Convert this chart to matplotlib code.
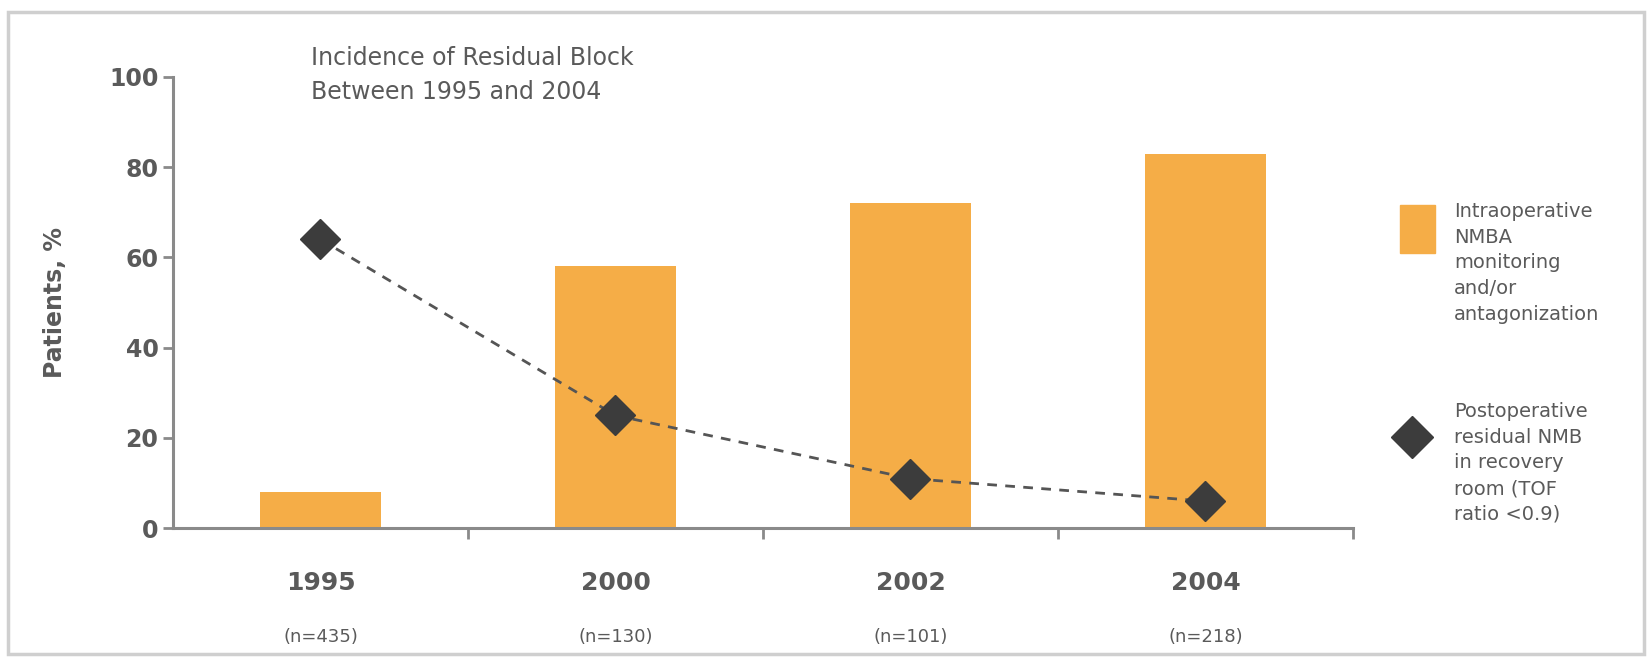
import matplotlib
matplotlib.use("Agg")
import matplotlib.pyplot as plt
from matplotlib.patches import Rectangle
from matplotlib.lines import Line2D
from matplotlib.transforms import blended_transform_factory

years = ["1995", "2000", "2002", "2004"]
n_labels = ["(n=435)", "(n=130)", "(n=101)", "(n=218)"]
monitoring = [8, 58, 72, 83]
residual = [64, 25, 11, 6]
yticks = [0, 20, 40, 60, 80, 100]

orange = "#F5AD47"
dark = "#3C3C3C"
gray = "#5A5A5A"
axcol = "#8A8A8A"

fig = plt.figure(figsize=(16.52, 6.57), dpi=100)
ax = fig.add_axes([0.1047, 0.196, 0.7143, 0.687])

x = list(range(len(years)))
ax.bar(x, monitoring, width=0.41, color=orange, zorder=2)
ax.plot(x, residual, linestyle=(0, (3.5, 3)), color="#555555", lw=2,
        marker="D", markersize=20, markerfacecolor=dark, markeredgecolor=dark, zorder=3)

ax.set_xlim(-0.5, 3.5)
ax.set_ylim(0, 100)
ax.set_yticks(yticks)
ax.set_yticklabels([str(v) for v in yticks], fontsize=17, fontweight="bold", color=gray)
ax.set_xticks([0.5, 1.5, 2.5, 3.5])
ax.set_xticklabels([])
ax.tick_params(axis="both", color=axcol, width=2, length=7, direction="out")
ax.tick_params(axis="x", length=8)
for s in ["top", "right"]:
    ax.spines[s].set_visible(False)
for s in ["left", "bottom"]:
    ax.spines[s].set_color(axcol)
    ax.spines[s].set_linewidth(2.2)

ax.set_ylabel("Patients, %", fontsize=17, fontweight="bold", color=gray, labelpad=30)

trans = blended_transform_factory(ax.transData, fig.transFigure)
for xi, yr, nl in zip(x, years, n_labels):
    ax.text(xi, 1 - 583 / 657, yr, transform=trans, ha="center", va="center",
            fontsize=18, fontweight="bold", color=gray)
    ax.text(xi, 1 - 637 / 657, nl, transform=trans, ha="center", va="center",
            fontsize=13, color=gray)

fig.text(311 / 1652, 1 - 75 / 657, "Incidence of Residual Block\nBetween 1995 and 2004",
         ha="left", va="center", fontsize=17, color=gray, linespacing=1.55)

# legend (manual)
fig.patches.append(Rectangle((1400 / 1652, 1 - 253 / 657), 35 / 1652, 48 / 657,
                             transform=fig.transFigure, color=orange))
fig.lines.append(Line2D([1412 / 1652], [1 - 437 / 657], transform=fig.transFigure,
                        marker="D", markersize=21, color=dark, linestyle="none"))
fig.text(1454 / 1652, 1 - 202 / 657,
         "Intraoperative\nNMBA\nmonitoring\nand/or\nantagonization",
         ha="left", va="top", fontsize=14, color=gray, linespacing=1.45)
fig.text(1454 / 1652, 1 - 402 / 657,
         "Postoperative\nresidual NMB\nin recovery\nroom (TOF\nratio <0.9)",
         ha="left", va="top", fontsize=14, color=gray, linespacing=1.45)

# faint frame
fig.patches.append(Rectangle((8 / 1652, 0.005), 1 - 16 / 1652, 1 - 12 / 657 - 0.005,
                             transform=fig.transFigure, fill=False, edgecolor="#CFCFCF", lw=2.5))

fig.savefig("out.png", dpi=100)
